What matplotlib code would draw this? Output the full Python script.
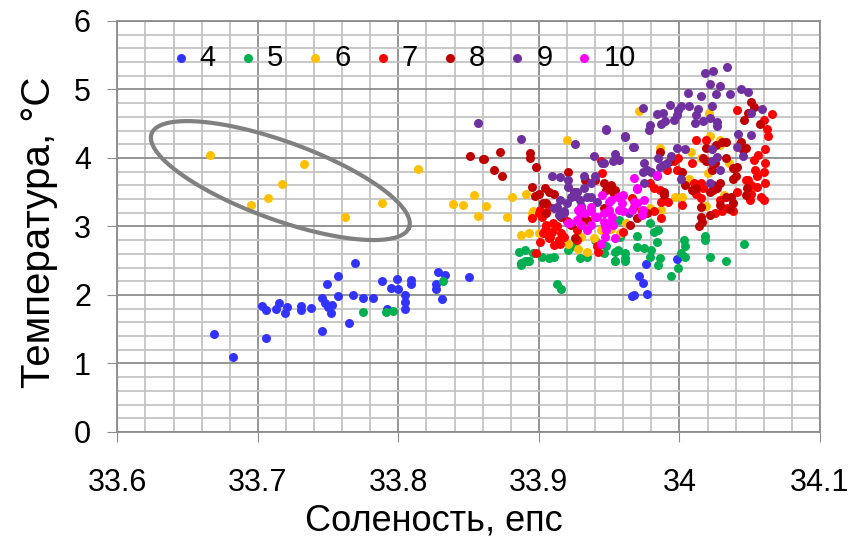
import numpy as np
import matplotlib
matplotlib.use('Agg')
import matplotlib.pyplot as plt

plt.rcParams['font.family'] = ['Liberation Sans', 'DejaVu Sans']

# (salinity, temperature) per month
s4 = [(33.669, 1.43), (33.682, 1.09), (33.703, 1.84), (33.706, 1.78), (33.706, 1.37), (33.713, 1.80),
      (33.715, 1.89), (33.719, 1.73), (33.721, 1.83), (33.731, 1.84), (33.731, 1.78), (33.738, 1.81),
      (33.746, 1.95), (33.746, 1.48), (33.749, 2.16), (33.748, 1.88), (33.750, 1.83), (33.753, 1.86),
      (33.752, 1.73), (33.757, 1.98), (33.757, 2.28), (33.765, 1.59), (33.768, 2.00), (33.769, 2.46),
      (33.775, 1.96), (33.782, 1.95), (33.788, 2.21), (33.792, 1.79), (33.795, 2.10), (33.799, 2.23),
      (33.800, 2.08), (33.805, 2.00), (33.805, 1.90), (33.805, 1.79), (33.809, 2.22), (33.809, 2.16),
      (33.827, 2.16), (33.827, 2.09), (33.828, 2.33), (33.833, 2.29), (33.831, 1.94), (33.850, 2.26),
      (33.998, 2.52), (33.976, 2.45), (33.971, 2.27), (33.974, 2.18), (33.977, 2.01), (33.966, 1.98),
      (33.968, 2.00), (33.945, 2.75)]
s5 = [(33.775, 1.75), (33.791, 1.75), (33.796, 1.77), (33.832, 2.20),
      (33.886, 2.63), (33.890, 2.65), (33.887, 2.46), (33.890, 2.49), (33.893, 2.50), (33.896, 2.61),
      (33.902, 2.56), (33.907, 2.54), (33.911, 2.56), (33.913, 2.16), (33.916, 2.08), (33.929, 2.54),
      (33.934, 2.56), (33.921, 2.66), (33.925, 2.71), (33.887, 2.44), (33.892, 2.49), (33.946, 2.61),
      (33.954, 2.49), (33.956, 2.66), (33.961, 2.61), (33.961, 2.49), (33.957, 3.09), (33.958, 2.85),
      (33.970, 2.86), (33.970, 2.70), (33.979, 3.05), (33.982, 2.92), (33.985, 2.95), (33.984, 2.78),
      (33.980, 2.66), (33.979, 2.56), (33.986, 2.54), (33.985, 2.44), (33.954, 2.63), (33.954, 2.50),
      (33.961, 2.54), (33.975, 2.68), (33.994, 2.27), (33.999, 2.39), (34.001, 2.61), (34.003, 2.80),
      (34.004, 2.71), (34.004, 2.56), (34.018, 2.86), (34.018, 2.80), (34.022, 2.56), (34.033, 2.49),
      (34.046, 2.75), (33.940, 2.80), (33.948, 2.72)]
s6 = [(33.666, 4.04), (33.733, 3.91), (33.717, 3.62), (33.707, 3.41), (33.695, 3.31), (33.788, 3.34),
      (33.814, 3.84), (33.762, 3.14), (33.839, 3.33), (33.846, 3.31), (33.862, 3.30), (33.857, 3.15),
      (33.877, 3.14), (33.854, 3.46), (33.881, 3.43), (33.891, 3.47), (33.895, 3.19), (33.920, 4.26),
      (33.971, 4.69), (33.887, 2.88), (33.893, 2.91), (33.895, 3.14), (33.896, 3.22), (33.900, 2.90),
      (33.921, 2.75), (33.928, 2.67), (33.934, 2.63), (33.939, 2.83), (33.944, 2.95), (33.951, 2.97),
      (33.986, 4.14), (34.022, 4.32), (34.029, 4.26), (34.015, 4.00), (34.007, 3.70), (34.020, 3.78),
      (34.002, 3.43), (33.997, 3.43), (33.987, 3.24), (33.979, 3.27), (34.019, 3.30), (34.021, 4.66),
      (34.029, 4.19), (34.035, 3.92), (34.008, 4.08), (34.032, 3.46), (34.050, 3.53), (33.910, 2.95),
      (33.930, 2.85), (33.958, 2.90), (33.962, 3.05)]
s7 = [(33.902, 3.14), (33.904, 2.95), (33.907, 2.83), (33.913, 3.00), (33.911, 2.73), (33.915, 2.75),
      (33.898, 2.62), (33.901, 2.78), (33.905, 3.02), (33.941, 2.71), (33.942, 2.63), (33.927, 2.95),
      (33.900, 3.19), (33.901, 3.24), (33.908, 2.85), (33.903, 2.90), (33.916, 2.90), (33.960, 2.92),
      (33.927, 2.80), (33.944, 3.96), (33.945, 3.78), (33.907, 3.29), (33.895, 3.12), (33.910, 3.05),
      (33.918, 2.85), (33.920, 3.08), (33.909, 2.92), (33.914, 2.80),
      (34.012, 4.26), (33.982, 3.56), (33.986, 3.53), (33.987, 3.36), (33.992, 3.36), (34.002, 3.31),
      (34.010, 3.63), (34.012, 3.48), (34.015, 3.41), (34.017, 3.56), (33.979, 3.63), (33.982, 3.22),
      (33.987, 3.13), (33.973, 3.22), (33.966, 3.41), (33.968, 3.29), (34.034, 3.27), (34.029, 3.39),
      (34.024, 3.53), (34.025, 3.19), (34.019, 4.26), (34.041, 4.70), (34.066, 4.64), (34.060, 4.55),
      (34.062, 4.43), (34.063, 4.32), (34.061, 4.13), (34.056, 4.04), (34.061, 3.92), (34.053, 3.97),
      (34.054, 3.82), (34.060, 3.80), (34.009, 3.92), (34.023, 3.92), (33.999, 4.00), (33.998, 3.82),
      (33.996, 3.95), (33.991, 3.82), (34.047, 3.68), (34.055, 3.73), (34.051, 3.61), (34.061, 3.64),
      (34.049, 3.68), (34.055, 3.58), (34.051, 3.48), (34.050, 3.39), (34.058, 3.43), (34.060, 3.39),
      (34.041, 3.51), (34.037, 3.27), (34.030, 3.22), (34.038, 3.22), (34.015, 3.63)]
s8 = [(33.861, 3.98), (33.872, 4.09), (33.868, 3.82), (33.874, 3.73), (33.894, 4.07), (33.894, 4.00),
      (33.898, 3.87), (33.921, 3.80), (33.895, 3.57), (33.900, 3.47), (33.897, 3.45), (33.904, 3.56),
      (33.907, 3.51), (33.911, 3.48), (33.903, 3.34), (33.940, 3.68), (33.946, 3.64), (33.933, 3.68),
      (33.851, 4.03), (33.860, 3.99), (33.951, 3.61), (33.954, 3.53), (33.948, 3.53), (33.986, 4.08),
      (33.993, 3.95), (34.002, 3.80), (33.989, 3.46), (34.004, 3.61), (34.009, 3.53), (34.012, 3.56),
      (34.019, 4.14), (34.033, 4.24), (34.025, 3.92), (34.019, 3.95), (34.022, 3.51), (34.027, 3.56),
      (34.033, 3.43), (34.015, 3.29), (34.022, 3.17), (34.051, 4.81), (34.053, 4.75), (34.049, 4.66),
      (34.046, 4.55), (34.057, 4.50), (34.044, 4.24), (34.047, 4.14), (34.041, 3.87), (34.040, 3.73),
      (34.017, 4.00), (34.023, 3.82), (34.033, 4.00), (34.029, 3.63), (34.015, 3.14), (34.016, 3.07),
      (34.014, 3.01), (34.029, 3.31), (34.037, 3.43), (34.038, 3.34), (34.036, 3.25), (34.047, 3.46),
      (34.048, 3.56), (33.953, 3.51), (33.989, 3.51), (33.970, 3.12), (33.965, 3.02), (33.977, 3.19),
      (34.026, 4.19), (34.030, 4.24), (34.043, 4.21), (34.045, 4.12), (34.038, 3.85), (34.038, 3.70),
      (34.024, 3.61), (33.916, 3.14), (33.930, 3.12), (33.923, 3.02), (33.926, 2.83), (33.934, 3.09),
      (33.905, 3.19), (33.905, 3.34), (33.946, 3.27)]
s9 = [(33.857, 4.51), (33.887, 4.27), (33.926, 4.20), (33.939, 4.03), (33.945, 3.92), (33.953, 3.95),
      (33.957, 3.97), (33.948, 4.41), (33.961, 4.31), (33.967, 4.16), (33.909, 3.73), (33.915, 3.72),
      (33.921, 3.68), (33.921, 3.58), (33.932, 3.73), (33.940, 3.73), (33.937, 3.63), (33.927, 3.51),
      (33.923, 3.43), (33.915, 3.39), (33.913, 3.29), (33.920, 3.34), (33.929, 3.39), (33.934, 3.43),
      (33.941, 3.36), (33.918, 3.19), (33.964, 3.19), (33.932, 3.56), (33.925, 3.51), (33.911, 3.27),
      (33.918, 3.22), (33.937, 3.43), (33.914, 3.17), (33.930, 3.30), (33.926, 3.45),
      (34.034, 5.33), (34.024, 5.27), (34.018, 5.24), (34.022, 5.08), (34.029, 5.05), (34.044, 5.00),
      (34.049, 4.97), (34.006, 4.95), (34.026, 4.93), (34.036, 4.94), (34.015, 4.91), (34.023, 4.76),
      (33.993, 4.77), (34.001, 4.76), (34.007, 4.76), (34.013, 4.71), (33.974, 4.73), (33.988, 4.66),
      (33.984, 4.64), (33.999, 4.70), (33.998, 4.63), (34.012, 4.63), (33.996, 4.56), (33.990, 4.54),
      (33.987, 4.49), (34.022, 4.59), (34.017, 4.54), (34.027, 4.53), (34.027, 4.47), (34.011, 4.51),
      (33.979, 4.48), (33.978, 4.41), (33.948, 4.42), (33.961, 4.32), (34.042, 4.35), (34.051, 4.34),
      (34.051, 4.65), (33.968, 4.16), (33.954, 4.06), (33.975, 3.92), (33.998, 4.14), (34.004, 4.13),
      (33.994, 4.03), (33.985, 4.00), (33.988, 3.90), (33.977, 3.82), (33.974, 3.80), (34.041, 4.16),
      (34.045, 4.03), (34.023, 4.13), (34.027, 4.02), (34.023, 3.95), (34.029, 3.82), (34.001, 3.70),
      (34.022, 3.63), (33.975, 3.63), (33.946, 3.92), (34.059, 4.71), (33.980, 3.80), (33.984, 3.73),
      (33.991, 3.92), (33.986, 3.87)]
s10 = [(33.968, 3.71), (33.984, 3.75), (33.945, 3.46), (33.951, 3.39), (33.956, 3.43), (33.960, 3.46),
       (33.959, 3.34), (33.950, 3.24), (33.957, 3.24), (33.968, 3.36), (33.975, 3.39), (33.974, 3.24),
       (33.973, 3.17), (33.952, 3.14), (33.946, 3.19), (33.970, 3.54), (33.950, 3.36), (33.930, 3.27),
       (33.928, 3.24), (33.933, 3.19), (33.941, 3.14), (33.950, 3.22), (33.921, 3.05), (33.930, 3.02),
       (33.934, 2.95), (33.937, 3.02), (33.940, 3.14), (33.946, 3.07), (33.944, 2.75), (33.937, 3.22),
       (33.922, 3.05), (33.927, 3.09), (33.948, 2.95), (33.953, 3.02), (33.960, 3.22), (33.966, 3.24),
       (33.970, 3.34), (33.970, 3.56), (33.947, 3.00), (33.954, 2.83), (33.947, 2.85), (33.951, 3.07),
       (33.937, 3.29), (33.929, 3.19)]

labels = ['4', '5', '6', '7', '8', '9', '10']
colors = ['#3333FF', '#00B050', '#FFC000', '#FF0000', '#C00000', '#7030A0', '#FF00FF']
series = [s4, s5, s6, s7, s8, s9, s10]

fig = plt.figure(figsize=(8.67, 5.42), dpi=100)
ax = fig.add_axes([0.1353, 0.2030, 0.8105, 0.7583])

for pts, c, lab in zip(series, colors, labels):
    arr = np.array(pts)
    ax.scatter(arr[:, 0], arr[:, 1], s=42, color=c, label=lab, linewidths=0, zorder=3)

ax.set_xlim(33.6, 34.1)
ax.set_ylim(0, 6)
ax.set_xticks(np.arange(33.6, 34.11, 0.1))
ax.set_xticklabels(['33.6', '33.7', '33.8', '33.9', '34', '34.1'])
ax.set_yticks(range(0, 7))
ax.set_xticks(np.arange(33.6, 34.101, 0.02), minor=True)
ax.set_yticks(np.arange(0, 6.01, 0.2), minor=True)
ax.grid(which='minor', color='#C4C4C4', linewidth=1.3, zorder=0)
ax.grid(which='major', color='#8C8C8C', linewidth=1.3, zorder=0)
ax.set_axisbelow(True)
ax.tick_params(which='minor', length=0)
ax.tick_params(which='major', length=7, color='#8C8C8C', labelsize=22)
ax.tick_params(axis='x', pad=19)
ax.tick_params(axis='y', pad=12)
for sp in ax.spines.values():
    sp.set_color('#8C8C8C')
    sp.set_linewidth(1.3)

ax.set_xlabel('Соленость, епс', fontsize=26, labelpad=2)
ax.xaxis.set_label_coords(0.45, -0.175)
ax.set_ylabel('Температура, °C', fontsize=29)
ax.yaxis.set_label_coords(-0.085, 0.485)

# ellipse drawn in pixel geometry around the month-6 outliers
sx = 867 * 0.8105 / 0.5
sy = 542 * 0.7583 / 6
cx, cy = 33.716, 3.67
a, b, th = 137, 39, np.deg2rad(20)
t = np.linspace(0, 2 * np.pi, 200)
ex = cx + (a * np.cos(t) * np.cos(th) - b * np.sin(t) * np.sin(th)) / sx
ey = cy - (a * np.cos(t) * np.sin(th) + b * np.sin(t) * np.cos(th)) / sy
ax.plot(ex, ey, color='#808080', linewidth=3, zorder=4)

ax.legend(loc='center left', bbox_to_anchor=(0.078, 0.91), ncol=7, frameon=False,
          fontsize=21, handlelength=0.6, handletextpad=0.35, columnspacing=0.8,
          borderaxespad=0, borderpad=0, scatterpoints=1)

fig.savefig('out.png', dpi=100)
